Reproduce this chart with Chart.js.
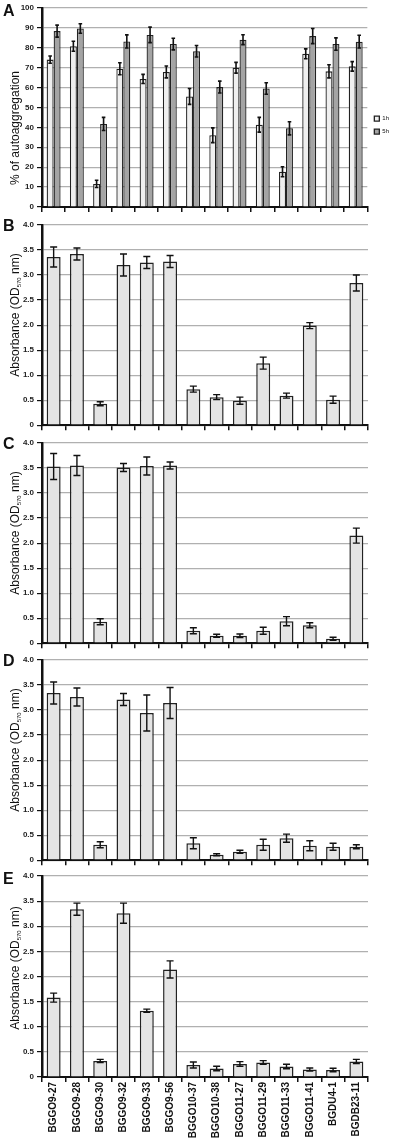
<!DOCTYPE html>
<html>
<head>
<meta charset="utf-8">
<script src="https://cdn.jsdelivr.net/npm/chart.js@4.4.1/dist/chart.umd.min.js"></script>
<style>
  body { margin: 0; background: #fff; }
  #fig { position: relative; width: 394px; height: 1140px; overflow: hidden; font-family: "Liberation Sans", Arial, sans-serif; }
  #fig canvas { position: absolute; left: 0; }
  .letter { position: absolute; left: 3px; font-weight: bold; font-size: 16px; line-height: 16px; color: #111; z-index: 2; }
  .ytitle { position: absolute; left: 15px; white-space: nowrap; font-size: 12px; color: #111; z-index: 2;
            transform: translate(-50%, -50%) rotate(-90deg); }
  .ytitle sub { font-size: 6px; vertical-align: -2px; }
</style>
</head>
<body>
<div id="fig">
  <canvas id="chart-a" width="394" height="216" style="top:0px"></canvas>
  <canvas id="chart-b" width="394" height="218" style="top:215px"></canvas>
  <canvas id="chart-c" width="394" height="218" style="top:433px"></canvas>
  <canvas id="chart-d" width="394" height="218" style="top:650px"></canvas>
  <canvas id="chart-e" width="394" height="274" style="top:866px"></canvas>

  <div class="letter" style="top:3px">A</div>
  <div class="letter" style="top:218px">B</div>
  <div class="letter" style="top:436px">C</div>
  <div class="letter" style="top:653px">D</div>
  <div class="letter" style="top:871px">E</div>

  <div class="ytitle" style="top:128px">% of autoaggregation</div>
  <div class="ytitle" style="top:315px">Absorbance (OD<sub>570</sub> nm)</div>
  <div class="ytitle" style="top:533px">Absorbance (OD<sub>570</sub> nm)</div>
  <div class="ytitle" style="top:750px">Absorbance (OD<sub>570</sub> nm)</div>
  <div class="ytitle" style="top:968px">Absorbance (OD<sub>570</sub> nm)</div>
</div>

<script>
// strains on the x axis
const strains = [
  "BGGO9-27", "BGGO9-28", "BGGO9-30", "BGGO9-32", "BGGO9-33", "BGGO9-56", "BGGO10-37",
  "BGGO10-38", "BGGO11-27", "BGGO11-29", "BGGO11-33", "BGGO11-41", "BGDU4-1", "BGDB23-11"
];

// panel A: % of autoaggregation
const agg1h = [74, 80.7, 11.6, 69.4, 64.3, 67.8, 55.5, 36, 69.9, 41.3, 17.7, 76.9, 68.1, 70.6];
const agg1hErr = [1.8, 2.5, 1.8, 3, 2.3, 3, 4, 3.7, 2.7, 3.7, 2.5, 2.5, 3.3, 2.4];
const agg5h = [88.3, 89.6, 41.7, 83.1, 86.4, 81.8, 78.2, 60.2, 84, 59.5, 39.5, 85.8, 81.8, 83];
const agg5hErr = [3, 2.4, 3.3, 3.3, 3.9, 2.9, 2.9, 3, 2.5, 2.9, 3.3, 3.8, 3.1, 3.2];

// panels B-E: absorbance OD570
const odB = [3.36, 3.42, 0.43, 3.2, 3.25, 3.27, 0.72, 0.56, 0.49, 1.24, 0.59, 1.99, 0.51, 2.84];
const odBErr = [0.2, 0.12, 0.04, 0.22, 0.12, 0.12, 0.06, 0.05, 0.07, 0.12, 0.05, 0.06, 0.07, 0.16];
const odC = [3.53, 3.55, 0.43, 3.51, 3.54, 3.55, 0.25, 0.15, 0.15, 0.25, 0.44, 0.36, 0.09, 2.15];
const odCErr = [0.26, 0.2, 0.06, 0.08, 0.18, 0.07, 0.06, 0.03, 0.035, 0.07, 0.09, 0.05, 0.03, 0.15];
const odD = [3.34, 3.26, 0.31, 3.21, 2.94, 3.14, 0.34, 0.11, 0.17, 0.31, 0.44, 0.29, 0.27, 0.27];
const odDErr = [0.22, 0.18, 0.06, 0.12, 0.36, 0.31, 0.11, 0.02, 0.03, 0.11, 0.08, 0.1, 0.07, 0.04];
const odE = [1.58, 3.34, 0.32, 3.26, 1.32, 2.14, 0.24, 0.17, 0.26, 0.29, 0.21, 0.15, 0.14, 0.31];
const odEErr = [0.09, 0.12, 0.03, 0.2, 0.03, 0.17, 0.06, 0.045, 0.045, 0.035, 0.045, 0.03, 0.035, 0.04];

const FONT = "'Liberation Sans', Arial, sans-serif";

// draw error bars from dataset.errors with the y scale
const errorBars = {
  id: "errorBars",
  afterDatasetsDraw(chart, args, opts) {
    const ctx = chart.ctx;
    const yScale = chart.scales.y;
    ctx.save();
    ctx.strokeStyle = "#111";
    ctx.lineWidth = opts.lineWidth || 1.5;
    chart.data.datasets.forEach((ds, i) => {
      const meta = chart.getDatasetMeta(i);
      meta.data.forEach((bar, j) => {
        const v = ds.data[j];
        const e = ds.errors[j];
        const yTop = yScale.getPixelForValue(v + e);
        const yBot = yScale.getPixelForValue(v - e);
        const w = opts.cap || 3;
        ctx.beginPath();
        ctx.moveTo(bar.x, yTop);
        ctx.lineTo(bar.x, yBot);
        ctx.moveTo(bar.x - w, yTop);
        ctx.lineTo(bar.x + w, yTop);
        ctx.moveTo(bar.x - w, yBot);
        ctx.lineTo(bar.x + w, yBot);
        ctx.stroke();
      });
    });
    ctx.restore();
  },
};

function makePanel(id, datasets, cfg) {
  return new Chart(document.getElementById(id), {
    type: "bar",
    data: { labels: strains, datasets: datasets },
    plugins: [errorBars],
    options: {
      responsive: false,
      animation: false,
      layout: { padding: cfg.padding },
      plugins: {
        legend: cfg.legend || { display: false },
        tooltip: { enabled: false },
        errorBars: cfg.errorBars,
      },
      scales: {
        x: {
          grid: { display: true, offset: true, drawOnChartArea: false, drawTicks: true, tickLength: 5, tickColor: "#111", lineWidth: 1.5 },
          border: { color: "#111", width: 2 },
          ticks: {
            display: cfg.showLabels,
            autoSkip: false,
            minRotation: 90,
            maxRotation: 90,
            padding: 0,
            color: "#111",
            font: { family: FONT, size: 10, weight: "bold" },
          },
          afterFit: (s) => { s.height = cfg.xHeight; },
        },
        y: {
          min: 0,
          max: cfg.max,
          ticks: { stepSize: cfg.step, padding: 3, color: "#222", font: { family: FONT, size: 8, weight: "bold" } },
          grid: { color: "#b0b0b0", lineWidth: 1.2, tickLength: 5, tickColor: "#111" },
          border: { color: "#111", width: 2.5 },
          afterFit: (s) => { s.width = 42; },
        },
      },
    },
  });
}

// panel A
makePanel("chart-a", [
  { label: "1h", data: agg1h, errors: agg1hErr, backgroundColor: "#efefef", borderColor: "#222", borderWidth: 1.3, categoryPercentage: 0.6, barPercentage: 1 },
  { label: "5h", data: agg5h, errors: agg5hErr, backgroundColor: "#a4a4a4", borderColor: "#222", borderWidth: 1.3, categoryPercentage: 0.6, barPercentage: 1 },
], {
  padding: { top: 5, bottom: 3, left: 0, right: -5 },
  max: 100, step: 10, xHeight: 6, showLabels: false,
  errorBars: { cap: 1.8, lineWidth: 1.6 },
  legend: {
    display: true,
    position: "right",
    title: { display: true, text: "", padding: { top: 25, bottom: 0 }, font: { size: 6 } },
    labels: { boxWidth: 5, boxHeight: 5, padding: 7, color: "#111", font: { family: FONT, size: 6 } },
  },
});

// panels B-E
const odPanels = [
  ["chart-b", odB, odBErr, 6],
  ["chart-c", odC, odCErr, 6],
  ["chart-d", odD, odDErr, 6],
  ["chart-e", odE, odEErr, 63],
];
odPanels.forEach(([id, vals, errs, xh]) => {
  makePanel(id, [
    { label: "OD570", data: vals, errors: errs, backgroundColor: "#e4e4e4", borderColor: "#222", borderWidth: 1.5, categoryPercentage: 1, barPercentage: 0.6 },
  ], {
    padding: { top: 10, bottom: id === "chart-e" ? 0 : 1, left: 0, right: 26 },
    max: 4, step: 0.5, xHeight: xh, showLabels: id === "chart-e",
    errorBars: { cap: 3.5, lineWidth: 1.4 },
  });
});
</script>
</body>
</html>
